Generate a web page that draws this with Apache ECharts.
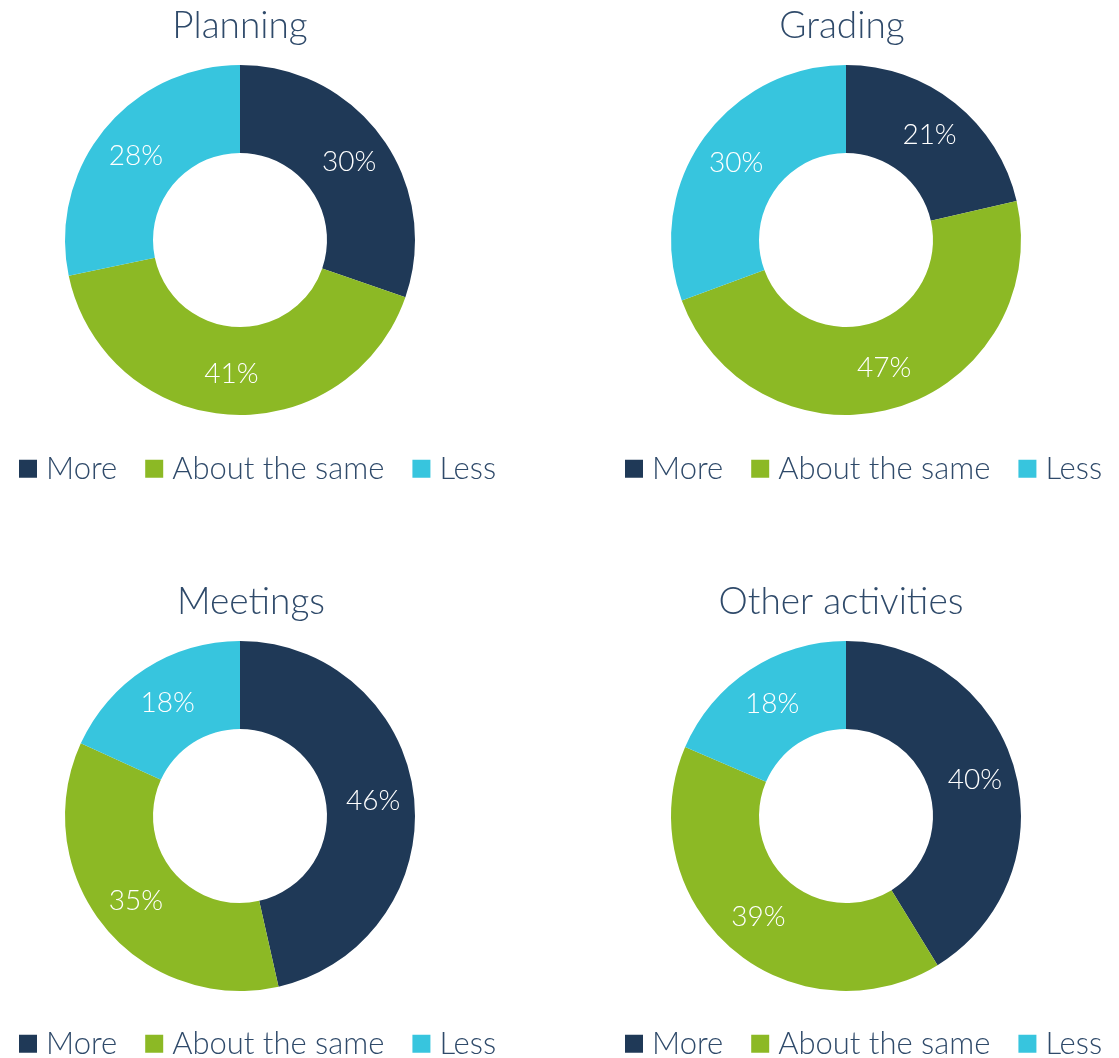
<html>
<head>
<script src="https://cdnjs.cloudflare.com/ajax/libs/echarts/6.0.0/echarts.min.js"></script>
<style>
  body { margin: 0; background: #fff; }
  #container { width: 1119px; height: 1058px; }
</style>
</head>
<body>
<div id="container"></div>
<script type="text/javascript">
var categories = ['More', 'About the same', 'Less'];
var titles = ['Planning', 'Grading', 'Meetings', 'Other activities'];
var planning = [30, 41, 28];
var grading = [21, 47, 30];
var meetings = [46, 35, 18];
var otherActivities = [40, 39, 18];
var colors = ['#1f3957', '#8cb925', '#37c5de'];

var allValues = [planning, grading, meetings, otherActivities];
var centers = [[240, 240], [846, 240], [240, 816], [846, 816]];
var titleX = [235, 837, 246, 836];
var legendPos = [[14, 441], [620, 441], [14, 1016], [620, 1016]];
var textColor = '#2f4a6a';
var font = "'Lato Light', Lato";

var dom = document.getElementById('container');
var myChart = echarts.init(dom, null, { renderer: 'canvas' });

var title = [], legend = [], series = [];
for (var i = 0; i < 4; i++) {
    title.push({
        text: titles[i],
        left: titleX[i],
        top: centers[i][1] - 240 - 6,
        textAlign: 'center',
        textStyle: { fontFamily: font, fontWeight: 300, fontSize: 37, color: textColor }
    });
    legend.push({
        data: categories,
        left: legendPos[i][0],
        top: legendPos[i][1],
        orient: 'horizontal',
        icon: 'rect',
        itemWidth: 18,
        itemHeight: 18,
        itemGap: 28,
        selectedMode: false,
        textStyle: { fontFamily: font, fontWeight: 300, fontSize: 31, color: textColor, padding: [0, 0, 0, 4] }
    });
    series.push({
        name: titles[i],
        type: 'pie',
        center: centers[i],
        radius: [87, 175],
        startAngle: 90,
        clockwise: true,
        avoidLabelOverlap: false,
        emphasis: { disabled: true },
        label: {
            show: true,
            position: 'inside',
            formatter: '{c}%',
            color: '#fff',
            fontFamily: font,
            fontWeight: 300,
            fontSize: 28
        },
        labelLine: { show: false },
        data: categories.map(function (c, j) {
            return { name: c, value: allValues[i][j], itemStyle: { color: colors[j] } };
        })
    });
}

var option = {
    animation: false,
    color: colors,
    title: title,
    legend: legend,
    series: series
};
myChart.setOption(option);
window.addEventListener('resize', myChart.resize);
</script>
</body>
</html>
